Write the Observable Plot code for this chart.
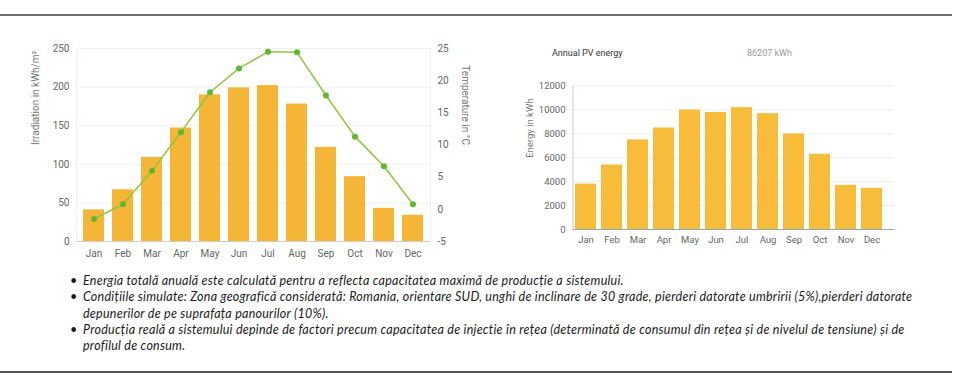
<!DOCTYPE html>
<html><head><meta charset="utf-8">
<script src="https://cdn.jsdelivr.net/npm/d3@7"></script>
<script src="https://cdn.jsdelivr.net/npm/@observablehq/plot@0.6"></script>
<style>
body{margin:0;width:961px;height:389px;position:relative;background:#fff;font-family:Roboto,sans-serif;overflow:hidden}
.rule{position:absolute;left:0;width:952px;height:2px;background:#6b6b6b}
#left{position:absolute;left:0;top:30px}
#right{position:absolute;left:500px;top:70px}
.t{position:absolute;font-size:9px;white-space:nowrap;line-height:12px}
#notes{position:absolute;left:0;top:273px;font-family:Lato,sans-serif;font-style:italic;font-size:12.5px;letter-spacing:0.25px;color:#1a1a1a;line-height:16.3px}
#notes div{position:relative;padding-left:83px;white-space:nowrap}
#notes div.b::before{content:"•";position:absolute;left:70px;font-style:normal}
</style>
</head><body>
<div class="rule" style="top:14px"></div>
<div id="left"></div>
<div class="t" style="left:552px;top:47px;color:#333">Annual PV energy</div>
<div class="t" style="left:747px;top:47px;color:#999">86207 kWh</div>
<div id="right"></div>
<div id="notes"></div>
<div class="rule" style="top:371px;background:#555"></div>
<script>
const months = ["Jan","Feb","Mar","Apr","May","Jun","Jul","Aug","Sep","Oct","Nov","Dec"];
const irradiation = [41,67,109,147,190,199,202,178,122,84,43,34];
const temperature = [-1.5,0.8,6.0,12.0,18.2,21.9,24.5,24.4,17.7,11.3,6.7,0.8];
const energy = [3800,5400,7500,8500,10000,9800,10200,9700,8000,6300,3700,3450];
const irrTicks = [0,50,100,150,200,250];
const tempTicks = [-5,0,5,10,15,20,25];
const energyTicks = [0,2000,4000,6000,8000,10000,12000];
const notes = [
  ["b","Energia totală anuală este calculată pentru a reflecta capacitatea maximă de producție a sistemului."],
  ["b","Condițiile simulate: Zona geografică considerată: Romania, orientare SUD, unghi de inclinare de 30 grade, pierderi datorate umbririi (5%),pierderi datorate"],
  ["c","depunerilor de pe suprafața panourilor (10%)."],
  ["b","Producția reală a sistemului depinde de factori precum capacitatea de injectie în rețea (determinată de consumul din rețea și de nivelul de tensiune) și de"],
  ["c","profilul de consum."]
];

const data = months.map((m,i)=>({month:m, irr:irradiation[i], temp:temperature[i], energy:energy[i]}));
const toIrr = t => (t + 5) * 250 / 30;

const left = Plot.plot({
  width: 480, height: 240, marginLeft: 76, marginRight: 50, marginTop: 18, marginBottom: 29,
  style: {fontFamily: "Roboto", fontSize: "10px", color: "#666", background: "transparent"},
  x: {domain: months, paddingInner: 0.29, paddingOuter: 0.14, label: null},
  y: {domain: [0, 250], label: null},
  marks: [
    Plot.ruleY(irrTicks.slice(1), {stroke: "#f0f0f0"}),
    Plot.frame({anchor: "left", stroke: "#f0f0f0"}),
    Plot.frame({anchor: "right", stroke: "#f0f0f0"}),
    Plot.barY(data, {x: "month", y: "irr", fill: "#f5b536"}),
    Plot.ruleY([0], {stroke: "#cfcfcf"}),
    Plot.axisX({tickSize: 0, tickPadding: 8, label: null, fill: "#666"}),
    Plot.axisY({ticks: irrTicks, tickSize: 0, tickPadding: 7, label: null, fill: "#666"}),
    Plot.axisY({anchor: "right", ticks: tempTicks.map(toIrr), tickFormat: d => String(Math.round(d * 30 / 250 - 5)), tickSize: 0, tickPadding: 7, label: null, fill: "#666"}),
    Plot.line(data, {x: "month", y: d => toIrr(d.temp), stroke: "#8dc63f", strokeWidth: 1.5}),
    Plot.dot(data, {x: "month", y: d => toIrr(d.temp), r: 3, fill: "#5bb92b"}),
    Plot.text(["Irradiation in kWh/m²"], {frameAnchor: "left", dx: -41, rotate: -90, fill: "#777", fontSize: 10}),
    Plot.text(["Temperature in °C"], {frameAnchor: "right", dx: 35, rotate: 90, fill: "#777", fontSize: 10})
  ]
});
document.getElementById("left").appendChild(left);

const right = Plot.plot({
  width: 440, height: 190, marginLeft: 72.5, marginRight: 46, marginTop: 15.7, marginBottom: 31,
  style: {fontFamily: "Roboto", fontSize: "9.5px", color: "#666", background: "transparent"},
  x: {domain: months, range: [71.5, 385.6], paddingInner: 0.2, paddingOuter: 0.1, label: null},
  y: {domain: [0, 12000], label: null},
  marks: [
    Plot.ruleY(energyTicks.slice(1), {stroke: "#eeeeee"}),
    Plot.frame({anchor: "left", stroke: "#cccccc"}),
    Plot.barY(data, {x: "month", y: "energy", fill: "#f8bc3b"}),
    Plot.ruleY([0], {stroke: "#9aa7b0"}),
    Plot.axisX({tickSize: 0, tickPadding: 7, label: null, fill: "#666"}),
    Plot.axisY({ticks: energyTicks, tickFormat: d => String(d), tickSize: 0, tickPadding: 7.5, label: null, fill: "#666"}),
    Plot.text(["Energy in kWh"], {frameAnchor: "left", dx: -43.5, rotate: -90, fill: "#777", fontSize: 9.5})
  ]
});
document.getElementById("right").appendChild(right);

const nb = document.getElementById("notes");
for (const [k, s] of notes) {
  const d = document.createElement("div");
  d.className = k;
  d.textContent = s;
  nb.appendChild(d);
}
</script>
</body></html>
